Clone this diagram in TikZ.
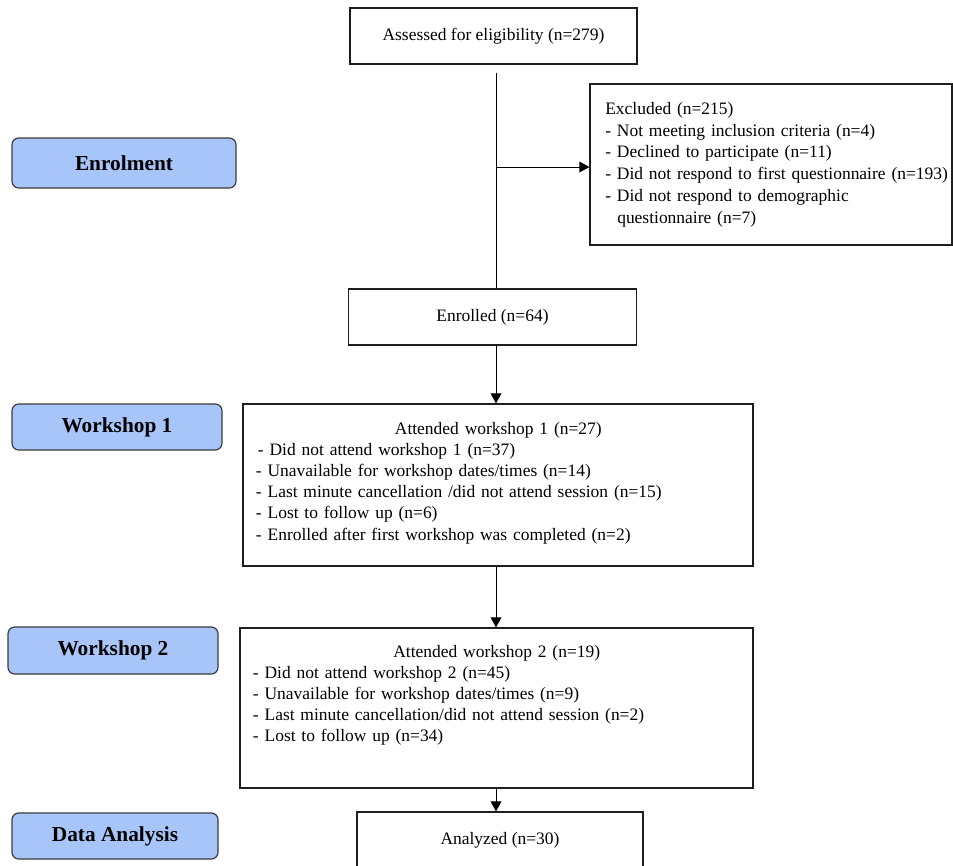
\documentclass[tikz,border=0pt]{standalone}
\usepackage{fontspec}
\setmainfont{Liberation Serif}
\usetikzlibrary{arrows.meta}
\definecolor{phasefill}{RGB}{168,197,249}
\definecolor{phaseline}{RGB}{60,60,60}
\definecolor{boxline}{RGB}{30,30,30}
\tikzset{
  txt/.style={font=\fontsize{13.1pt}{15.9pt}\selectfont},
  flowbox/.style={draw=boxline, line width=0.9pt, rectangle, inner sep=0pt, txt},
  phase/.style={draw=phaseline, line width=0.9pt, fill=phasefill, rounded corners=5pt,
    inner sep=0pt, font=\fontsize{16pt}{19pt}\selectfont\bfseries},
  bodytext/.style={inner sep=0pt, anchor=base west, txt},
  conn/.style={line width=0.75pt, draw=black},
  arr/.style={conn, -{Triangle[length=7.5pt, width=8pt]}},
}
\begin{document}
\begin{tikzpicture}[x=0.75pt, y=-0.75pt]
\useasboundingbox (0,0) rectangle (953,865);
\clip (0,0) rectangle (953,865);
\fill[white] (0,0) rectangle (953,865);

% phase labels
\node[phase, minimum width=168pt, minimum height=37.5pt] (penrol) at (124,163) {Enrolment};
\node[phase, minimum width=157.5pt, minimum height=34.5pt] (pw1) at (117,427) {Workshop 1};
\node[phase, minimum width=157.5pt, minimum height=35.25pt] (pw2) at (113,650.5) {Workshop 2};
\node[phase, minimum width=154.5pt, minimum height=34.5pt] (pda) at (115,836) {Data Analysis};

% flow boxes
\node[flowbox, minimum width=215.25pt, minimum height=42pt] (ass) at (493.5,36) {Assessed for eligibility (n=279)};
\node[flowbox, minimum width=271.5pt, minimum height=120.75pt] (excl) at (771,164.5) {};
\node[bodytext, text width=265pt, align=left, font=\fontsize{13.1pt}{16.35pt}\selectfont] (excltxt) at (605,114.3) {Excluded (n=215)\\
- Not meeting inclusion criteria (n=4)\\
- Declined to participate (n=11)\\
- Did not respond to first questionnaire (n=193)\\
- Did not respond to demographic\\
\hspace*{9pt}questionnaire (n=7)};
\node[flowbox, minimum width=216pt, minimum height=42pt] (enr) at (492.5,317) {Enrolled (n=64)};
\node[flowbox, minimum width=382.5pt, minimum height=121.5pt] (w1) at (498,485) {};
\node[bodytext, text width=363.5pt] (w1txt) at (255.7,434) {\centering Attended workshop 1 (n=27)\par\raggedright
\hspace*{1.5pt}- Did not attend workshop 1 (n=37)\\
- Unavailable for workshop dates/times (n=14)\\
- Last minute cancellation /did not attend session (n=15)\\
- Lost to follow up (n=6)\\
- Enrolled after first workshop was completed (n=2)};
\node[flowbox, minimum width=384.75pt, minimum height=120pt] (w2) at (496.5,708) {};
\node[bodytext, text width=365.7pt] (w2txt) at (252.7,657) {\centering Attended workshop 2 (n=19)\par\raggedright
- Did not attend workshop 2 (n=45)\\
- Unavailable for workshop dates/times (n=9)\\
- Last minute cancellation/did not attend session (n=2)\\
- Lost to follow up (n=34)};
\node[flowbox, minimum width=214.5pt, minimum height=42pt] (an) at (500,840) {Analyzed (n=30)};

% connectors
\coordinate (spine) at (496,0);
\coordinate (j) at (496,167);
\draw[conn, shorten <=6pt] (spine |- ass.south) -- (spine |- enr.north);
\draw[arr] (j) -- (j -| excl.west);
\draw[arr] (spine |- enr.south) -- (spine |- w1.north);
\draw[arr] (spine |- w1.south) -- (spine |- w2.north);
\draw[arr] (spine |- w2.south) -- (spine |- an.north);
\end{tikzpicture}
\end{document}
